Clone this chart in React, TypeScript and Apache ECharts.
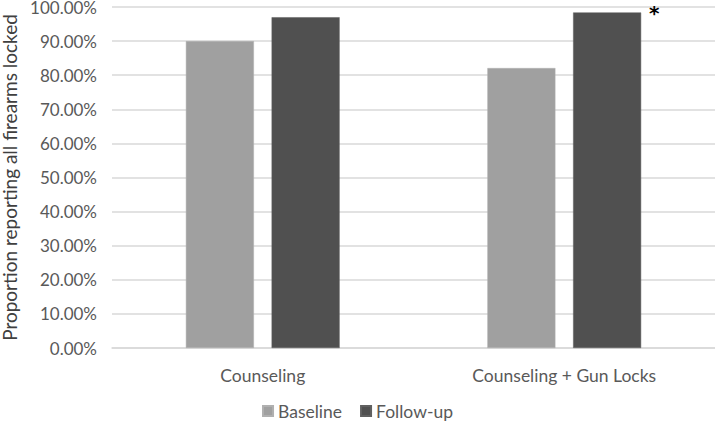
import React, { useEffect, useRef } from "react";
import * as echarts from "echarts";

const categories = ["Counseling", "Counseling + Gun Locks"];
const baseline = [0.9, 0.821];
const followUp = [0.97, 0.984];
const significance = ["", "*"];
const yTicks = { min: 0, max: 1, interval: 0.1 };

export default function App() {
  const ref = useRef<HTMLDivElement>(null);
  useEffect(() => {
    const chart = echarts.init(ref.current!, null, { renderer: "svg" });
    const font = "Lato, 'Open Sans', sans-serif";
    chart.setOption({
      animation: false,
      textStyle: { fontFamily: font },
      grid: { left: 112, right: 0, top: 7, bottom: 77, outerBoundsMode: "none", containLabel: false },
      legend: {
        bottom: 0,
        left: "center",
        icon: "rect",
        itemWidth: 10,
        itemHeight: 10,
        itemGap: 18,
        textStyle: { fontSize: 17.5, color: "#595959", fontFamily: font },
        data: ["Baseline", "Follow-up"],
      },
      xAxis: {
        type: "category",
        data: categories,
        axisTick: { show: false },
        axisLine: { lineStyle: { color: "#d9d9d9", width: 1.5 } },
        axisLabel: { fontSize: 17.5, color: "#595959", margin: 18, fontFamily: font },
      },
      yAxis: {
        type: "value",
        min: yTicks.min,
        max: yTicks.max,
        interval: yTicks.interval,
        name: "Proportion reporting all firearms locked",
        nameLocation: "middle",
        nameGap: 90,
        nameTextStyle: { fontSize: 19, lineHeight: 20, color: "#404040", fontFamily: font },
        axisLabel: {
          fontSize: 17,
          lineHeight: 14,
          color: "#595959",
          margin: 15,
          fontFamily: font,
          formatter: (v: number) => (v * 100).toFixed(2) + "%",
        },
        splitLine: { lineStyle: { color: "#d9d9d9", width: 1.5 } },
      },
      series: [
        {
          name: "Baseline",
          type: "bar",
          data: baseline,
          barGap: "26%",
          barCategoryGap: "49%",
          itemStyle: { color: "#a0a0a0", borderColor: "#b0b0b0", borderWidth: 0.5 },
        },
        {
          name: "Follow-up",
          type: "bar",
          data: followUp.map((v, i) => ({
            value: v,
            label: {
              show: significance[i] !== "",
              formatter: significance[i],
              position: [76, -9],
              fontSize: 20,
              fontWeight: "bold",
              color: "#000",
              fontFamily: "'DejaVu Sans', sans-serif",
            },
          })),
          itemStyle: { color: "#505050", borderColor: "#606060", borderWidth: 0.5 },
        },
      ],
    });
    return () => chart.dispose();
  }, []);
  return (
    <div
      ref={ref}
      style={{ position: "fixed", left: 0, top: 0, width: 715, height: 425, background: "#fff" }}
    />
  );
}
